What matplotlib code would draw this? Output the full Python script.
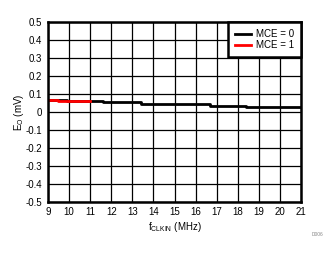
import matplotlib
matplotlib.use("Agg")
import matplotlib.pyplot as plt
import numpy as np

plt.rcParams['font.family'] = ['Liberation Sans', 'DejaVu Sans']

# step breakpoints (steps-post)
x_mce0 = [9, 9.9, 11.6, 13.4, 15.0, 16.7, 18.4, 21]
y_mce0 = [0.066, 0.059, 0.053, 0.047, 0.042, 0.035, 0.029, 0.029]
x_mce1 = [9, 9.45, 11]
y_mce1 = [0.066, 0.059, 0.059]

xticks = np.arange(9, 22, 1)
yticks = np.round(np.arange(-0.5, 0.51, 0.1), 1)
ylabels = ['0' if abs(v) < 1e-9 else '%g' % v for v in yticks]

fig = plt.figure(figsize=(3.36, 2.54), dpi=100)
ax = fig.add_axes([0.143, 0.205, 0.753, 0.708])

ax.plot(x_mce0, y_mce0, color='black', lw=2, drawstyle='steps-post', label='MCE = 0')
ax.plot(x_mce1, y_mce1, color='#ff0000', lw=2, drawstyle='steps-post', label='MCE = 1')

ax.set_xlim(9, 21)
ax.set_ylim(-0.5, 0.5)
ax.set_xticks(xticks)
ax.set_yticks(yticks)
ax.set_yticklabels(ylabels)
ax.tick_params(length=0, labelsize=7, pad=4)
ax.grid(True, color='black', lw=0.9)
ax.set_axisbelow(True)
for s in ax.spines.values():
    s.set_linewidth(1.8)

ax.set_xlabel('f$_{\\mathregular{CLKIN}}$ (MHz)', fontsize=7, labelpad=2)
ax.set_ylabel('E$_{\\mathregular{O}}$ (mV)', fontsize=7, labelpad=0)

leg = ax.legend(loc='upper right', fontsize=7, frameon=True, fancybox=False,
                borderaxespad=0.0, handlelength=1.7, handletextpad=0.5,
                borderpad=0.7, labelspacing=0.15)
leg.get_frame().set_edgecolor('black')
leg.get_frame().set_linewidth(1.8)
leg.get_frame().set_alpha(1)

fig.text(0.962, 0.07, 'D006', fontsize=3.5, color='#888888', ha='right')

fig.savefig('out.png', dpi=100)
